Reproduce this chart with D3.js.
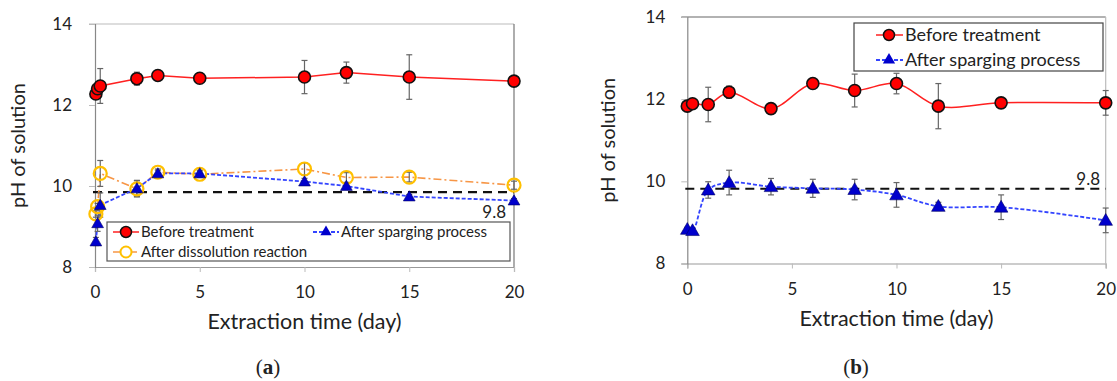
<!DOCTYPE html>
<html><head><meta charset="utf-8">
<script src="https://cdn.jsdelivr.net/npm/d3@7"></script>
<style>body{margin:0;background:#fff}svg{display:block}text{font-family:Lato,"Open Sans",sans-serif;fill:#222}</style>
</head><body><svg id="c" width="1117" height="381"></svg>
<script>
// ---- data ----
const daysA = [0.042, 0.125, 0.25, 2, 3, 5, 10, 12, 15, 20];
const beforeA = [12.27, 12.40, 12.47, 12.65, 12.73, 12.66, 12.69, 12.80, 12.69, 12.59];
const beforeAErr = [0.05, 0.05, 0.43, 0.16, 0.05, 0.05, 0.41, 0.26, 0.55, 0];
const dissolA = [9.31, 9.49, 10.31, 9.93, 10.34, 10.29, 10.42, 10.21, 10.22, 10.02];
const dissolAErr = [0.08, 0.08, 0.32, 0.2, 0.08, 0.08, 0.15, 0.12, 0.12, 0.1];
const spargA = [8.63, 9.08, 9.53, 9.94, 10.31, 10.31, 10.11, 10.00, 9.74, 9.64];
const spargAErr = [0.1, 0.2, 0.3, 0.2, 0.08, 0.08, 0.08, 0.08, 0.05, 0.05];

const daysB = [0, 0.25, 1, 2, 4, 6, 8, 10, 12, 15, 20];
const beforeB = [11.83, 11.89, 11.87, 12.17, 11.77, 12.38, 12.21, 12.38, 11.83, 11.91, 11.91];
const beforeBErr = [0.05, 0.05, 0.42, 0.15, 0.05, 0.05, 0.4, 0.25, 0.55, 0.05, 0.3];
const spargB = [8.83, 8.80, 9.79, 9.97, 9.87, 9.83, 9.80, 9.67, 9.39, 9.37, 9.05];
const spargBErr = [0.05, 0.05, 0.2, 0.3, 0.2, 0.22, 0.25, 0.3, 0.1, 0.3, 0.3];

const refValueA = 9.85, refValueB = 9.82, refLabel = "9.8";
const xTicks = [0, 5, 10, 15, 20];
const yTicks = [8, 10, 12, 14];
const xTitle = "Extraction time (day)", yTitle = "pH of solution";
const legendA = ["Before treatment", "After sparging process", "After dissolution reaction"];
const legendB = ["Before treatment", "After sparging process"];

const svg = d3.select("#c");

function panel(o){
  const g = svg.append("g");
  const x = d3.scaleLinear().domain([0,20]).range([o.x0,o.x1]);
  const y = d3.scaleLinear().domain([8,14]).range([o.y0,o.y1]);
  g.append("line").attr("x1",o.x0-6).attr("x2",o.x1).attr("y1",o.y1).attr("y2",o.y1).attr("stroke",o.topCol).attr("stroke-width",1.2);
  g.append("line").attr("x1",o.x1).attr("x2",o.x1).attr("y1",o.y1).attr("y2",o.y0).attr("stroke",o.rightCol).attr("stroke-width",1.2);
  const ax = g.append("g").attr("transform",`translate(0,${o.y0})`).call(d3.axisBottom(x).tickValues(xTicks).tickFormat(d3.format("d")).tickSize(5).tickPadding(14));
  const ay = g.append("g").attr("transform",`translate(${o.x0},0)`).call(d3.axisLeft(y).tickValues(yTicks).tickFormat(d3.format("d")).tickSize(6).tickPadding(o.ypad));
  [ax,ay].forEach(a=>{a.select(".domain").attr("stroke","#999").attr("stroke-width",1.2);a.selectAll(".tick line").attr("stroke","#bbb");a.selectAll("text").style("font-size","17px").style("font-family","Lato,sans-serif").attr("fill","#222");});
  ay.select(".domain").attr("stroke","#888");
  g.append("text").attr("x",(o.x0+o.x1)/2).attr("y",o.y0+62).attr("text-anchor","middle").style("font-size","21.5px").text(xTitle);
  g.append("text").attr("transform",`translate(${o.ytx},${(o.y0+o.y1)/2}) rotate(-90)`).attr("text-anchor","middle").style("font-size","20px").text(yTitle);
  g.append("line").attr("x1",o.x0-2).attr("x2",o.x1).attr("y1",y(o.ref)).attr("y2",y(o.ref)).attr("stroke","#111").attr("stroke-width",2.2).attr("stroke-dasharray","9,6");
  g.append("text").attr("x",o.refLx).attr("y",o.refLy).attr("text-anchor","end").style("font-size","17px").text(refLabel);
  return {g,x,y};
}

function errBars(p, xs, ys, es, cap){
  p.g.append("g").selectAll("g").data(xs.map((d,i)=>[d,ys[i],es[i]]).filter(d=>d[2]>0)).join("g").each(function(d){
    const s=d3.select(this), X=p.x(d[0]), Y1=p.y(d[1]+d[2]), Y2=p.y(d[1]-d[2]);
    s.append("line").attr("x1",X).attr("x2",X).attr("y1",Y1).attr("y2",Y2).attr("stroke","#666").attr("stroke-width",1.2);
    [Y1,Y2].forEach(Y=>s.append("line").attr("x1",X-cap).attr("x2",X+cap).attr("y1",Y).attr("y2",Y).attr("stroke","#666").attr("stroke-width",1.2));
  });
}
function line(p, xs, ys, style, curve){
  p.g.append("path").datum(xs.map((d,i)=>[d,ys[i]]))
    .attr("d",d3.line().x(d=>p.x(d[0])).y(d=>p.y(d[1])).curve(curve))
    .attr("fill","none").attr("stroke",style.c).attr("stroke-width",style.w).attr("stroke-dasharray",style.dash||null);
}
const tri = (s)=>d3.symbol().type(d3.symbolTriangle).size(s);
function circles(p, xs, ys, r, fill, stroke, sw){
  p.g.append("g").selectAll("circle").data(xs.map((d,i)=>[d,ys[i]])).join("circle")
    .attr("cx",d=>p.x(d[0])).attr("cy",d=>p.y(d[1])).attr("r",r).attr("fill",fill).attr("stroke",stroke).attr("stroke-width",sw);
}
function triangles(p, xs, ys, size){
  p.g.append("g").selectAll("path").data(xs.map((d,i)=>[d,ys[i]])).join("path")
    .attr("transform",d=>`translate(${p.x(d[0])},${p.y(d[1])+1})`).attr("d",tri(size)).attr("fill","#0000CC").attr("stroke","#000066").attr("stroke-width",0.6);
}
const redS={c:"#FF2020",w:1.5}, blueS={c:"#3344FF",w:1.8,dash:"4,2"}, orS={c:"#F79646",w:1.6,dash:"8,3,2,3"};

// ---- panel a ----
const A = panel({x0:95,x1:514,y0:267,y1:24,topCol:"#bbb",rightCol:"#777",ytx:25,ypad:17,ref:refValueA,refLx:506,refLy:218});
line(A, daysA, dissolA, orS, d3.curveLinear);
line(A, daysA, spargA, blueS, d3.curveLinear);
line(A, daysA, beforeA, redS, d3.curveLinear);
errBars(A, daysA, beforeA, beforeAErr, 3);
errBars(A, daysA, dissolA, dissolAErr, 3);
errBars(A, daysA, spargA, spargAErr, 3);
circles(A, daysA, dissolA, 6.5, "none", "#FFC000", 2.2);
triangles(A, daysA, spargA, 60);
circles(A, daysA, beforeA, 6, "#FF0000", "#111", 1.6);
(function(){
  const g=A.g.append("g");
  g.append("rect").attr("x",107).attr("y",222).attr("width",403).attr("height",39).attr("fill","#fff").attr("stroke","#555").attr("stroke-width",1.2);
  const items=[{t:legendA[0],x:113,y:232,s:redS,m:"c"},{t:legendA[1],x:313,y:232,s:blueS,m:"t"},{t:legendA[2],x:113,y:252,s:orS,m:"o"}];
  items.forEach(it=>{
    g.append("line").attr("x1",it.x).attr("x2",it.x+26).attr("y1",it.y).attr("y2",it.y).attr("stroke",it.s.c).attr("stroke-width",it.s.w).attr("stroke-dasharray",it.s.dash||null);
    if(it.m==="c") g.append("circle").attr("cx",it.x+13).attr("cy",it.y).attr("r",5.5).attr("fill","#FF0000").attr("stroke","#111").attr("stroke-width",1.5);
    if(it.m==="o") g.append("circle").attr("cx",it.x+13).attr("cy",it.y).attr("r",5.5).attr("fill","#fff").attr("stroke","#FFC000").attr("stroke-width",2);
    if(it.m==="t") g.append("path").attr("transform",`translate(${it.x+13},${it.y})`).attr("d",tri(55)).attr("fill","#0000CC");
    g.append("text").attr("x",it.x+28).attr("y",it.y+5).style("font-size","15px").text(it.t);
  });
})();
svg.append("text").attr("x",268).attr("y",374).attr("text-anchor","middle").style("font-family","'Liberation Serif',serif").style("font-size","21px")
  .html('(<tspan font-weight="bold">a</tspan>)');

// ---- panel b ----
const B = panel({x0:687.3,x1:1105.7,y0:263.5,y1:17,topCol:"#666",rightCol:"#bbb",ytx:615,ypad:16,ref:refValueB,refLx:1100,refLy:185});
line(B, daysB, spargB, blueS, d3.curveCatmullRom.alpha(0.5));
line(B, daysB, beforeB, redS, d3.curveCatmullRom.alpha(0.5));
errBars(B, daysB, beforeB, beforeBErr, 3);
errBars(B, daysB, spargB, spargBErr, 3);
triangles(B, daysB, spargB, 80);
circles(B, daysB, beforeB, 6, "#FF0000", "#111", 1.6);
(function(){
  const g=B.g.append("g");
  g.append("rect").attr("x",854).attr("y",23).attr("width",249).attr("height",48).attr("fill","#fff").attr("stroke","#444").attr("stroke-width",1.2);
  const items=[{t:legendB[0],y:35,s:redS,m:"c"},{t:legendB[1],y:60,s:blueS,m:"t"}];
  items.forEach(it=>{
    g.append("line").attr("x1",876).attr("x2",903).attr("y1",it.y).attr("y2",it.y).attr("stroke",it.s.c).attr("stroke-width",it.s.w).attr("stroke-dasharray",it.s.dash||null);
    if(it.m==="c") g.append("circle").attr("cx",889).attr("cy",it.y).attr("r",5.5).attr("fill","#FF0000").attr("stroke","#111").attr("stroke-width",1.5);
    if(it.m==="t") g.append("path").attr("transform",`translate(889,${it.y})`).attr("d",tri(65)).attr("fill","#0000CC");
    g.append("text").attr("x",905).attr("y",it.y+6).style("font-size","18px").text(it.t);
  });
})();
svg.append("text").attr("x",856).attr("y",374).attr("text-anchor","middle").style("font-family","'Liberation Serif',serif").style("font-size","21px")
  .html('(<tspan font-weight="bold">b</tspan>)');
</script></body></html>
